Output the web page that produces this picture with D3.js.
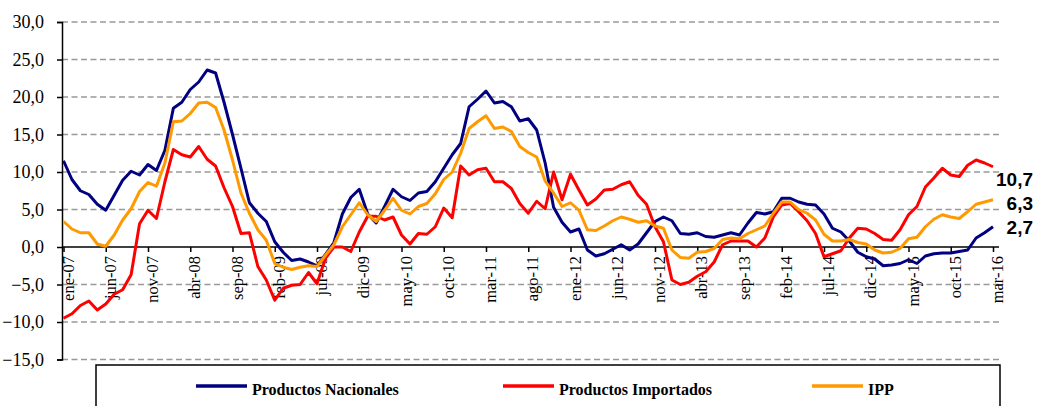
<!DOCTYPE html>
<html>
<head>
<meta charset="utf-8">
<script src="https://cdnjs.cloudflare.com/ajax/libs/d3/7.8.5/d3.min.js"></script>
<style>
  body { margin: 0; background: #fff; }
  svg { display: block; }
  .serif { font-family: "Liberation Serif", "Times New Roman", serif; }
</style>
</head>
<body>
<div id="chart"></div>
<script>
// month names and years for the category axis
var monthNames = ["ene","feb","mar","abr","may","jun","jul","ago","sep","oct","nov","dic"];
var years = ["07","08","09","10","11","12","13","14","15","16"];

// variacion anual (%), ene-07 .. mar-16
var nacionales = [
  11.5, 9.0, 7.5, 7.0, 5.7, 4.9, 6.9, 8.9, 10.1, 9.6,
  11.0, 10.2, 12.9, 18.5, 19.3, 21.0, 22.0, 23.6, 23.2, 19.3,
  15.0, 10.5, 5.9, 4.5, 3.4, 0.7, -0.7, -1.8, -1.6, -2.0,
  -2.5, -1.0, 0.6, 4.4, 6.6, 7.7, 4.4, 3.2, 5.4, 7.7,
  6.7, 6.2, 7.2, 7.4, 8.7, 10.5, 12.3, 13.8, 18.7, 19.7,
  20.8, 19.2, 19.4, 18.7, 16.8, 17.1, 15.6, 11.2, 5.3, 3.3,
  2.0, 2.4, -0.4, -1.2, -0.9, -0.3, 0.3, -0.4, 0.4, 1.9,
  3.4, 4.0, 3.5, 1.8, 1.7, 1.9, 1.4, 1.3, 1.6, 1.9,
  1.6, 3.2, 4.6, 4.4, 4.7, 6.5, 6.5, 6.0, 5.7, 5.6,
  4.4, 2.5, 2.0, 0.8, -0.7, -1.3, -1.6, -2.5, -2.4, -2.2,
  -1.7, -2.2, -1.2, -0.9, -0.8, -0.8, -0.6, -0.4, 1.2, 1.9,
  2.7
];
var importados = [
  -9.5, -8.9, -7.8, -7.2, -8.4, -7.6, -6.3, -5.7, -3.7, 3.1,
  4.9, 3.8, 8.7, 13.0, 12.3, 12.0, 13.4, 11.7, 10.8, 7.9,
  5.4, 1.8, 1.9, -2.6, -4.4, -7.1, -5.5, -5.1, -5.0, -3.4,
  -4.9, -1.5, 0.0, 0.0, -0.6, 2.0, 4.1, 4.1, 3.6, 4.0,
  1.6, 0.4, 1.8, 1.7, 2.7, 5.2, 3.9, 10.8, 9.6, 10.3,
  10.5, 8.7, 8.7, 7.8, 5.8, 4.5, 6.1, 5.1, 10.0, 6.3,
  9.7, 7.6, 5.6, 6.4, 7.6, 7.7, 8.3, 8.7, 6.9, 5.7,
  2.7, 0.7, -4.4, -5.0, -4.7, -3.9, -3.3, -2.0, 0.3, 0.8,
  0.8, 0.8, 0.0, 1.2, 4.0, 5.6, 5.8, 4.7, 3.5, 1.8,
  -1.3, -0.9, -0.5, 1.2, 2.5, 2.4, 1.8, 1.0, 0.9, 2.3,
  4.3, 5.4, 8.0, 9.2, 10.5, 9.6, 9.4, 10.9, 11.6, 11.2,
  10.7
];
var ipp = [
  3.4, 2.4, 1.9, 1.9, 0.4, 0.1, 1.6, 3.6, 5.1, 7.4,
  8.6, 8.1, 11.2, 16.7, 16.8, 17.8, 19.2, 19.3, 18.6, 15.6,
  11.6, 7.2, 4.5, 2.3, 0.9, -2.2, -2.7, -3.0, -2.7, -2.5,
  -2.6, -1.1, 0.3, 2.7, 4.3, 5.9, 4.3, 3.4, 4.9, 6.5,
  4.9, 4.4, 5.4, 5.8, 7.1, 9.0, 10.0, 12.5, 15.8, 16.7,
  17.5, 15.8, 16.0, 15.4, 13.4, 12.6, 12.0, 8.8, 7.2, 5.4,
  5.9, 4.9, 2.3, 2.2, 2.8, 3.5, 4.0, 3.7, 3.3, 3.5,
  2.8, 2.5, -0.4, -1.4, -1.5, -0.7, -0.6, -0.2, 1.0, 1.2,
  1.1, 1.8, 2.3, 2.8, 4.5, 6.0, 6.0, 5.0, 4.5, 3.6,
  1.7, 0.8, 0.8, 1.0, 0.6, 0.4, -0.4, -0.8, -0.7, -0.2,
  1.1, 1.3, 2.7, 3.7, 4.3, 4.0, 3.8, 4.7, 5.7, 6.0,
  6.3
];
var yTicks = [-15, -10, -5, 0, 5, 10, 15, 20, 25, 30];

// month labels "ene-07" ...
var months = [];
years.forEach(function(yr) {
  monthNames.forEach(function(m) { months.push(m + "-" + yr); });
});
months = months.slice(0, nacionales.length);

var series = [
  {name: "Productos Nacionales", values: nacionales, color: "#000080", labelDy: 7},
  {name: "Productos Importados", values: importados, color: "#ff0000", labelDy: 19},
  {name: "IPP", values: ipp, color: "#ff9900", labelDy: 10}
];

var width = 1037, height = 406;
var fmt = function(d) { return d3.format(".1f")(d).replace(".", ","); };

var svg = d3.select("#chart").append("svg")
  .attr("width", width)
  .attr("height", height);

var x = d3.scaleLinear().domain([0, months.length - 1]).range([63.5, 993]);
var y = d3.scaleLinear().domain([-15, 30]).range([359.5, 22]);

// dashed grid
svg.append("g")
  .selectAll("line")
  .data(yTicks.filter(function(d) { return d != 0; }))
  .join("line")
  .attr("x1", 62).attr("x2", 999)
  .attr("y1", function(d) { return y(d); })
  .attr("y2", function(d) { return y(d); })
  .attr("stroke", "#999")
  .attr("stroke-width", 1.5)
  .attr("stroke-dasharray", "6,3.5");

// y axis
var yAxis = svg.append("g")
  .attr("transform", "translate(62,0)")
  .call(d3.axisLeft(y).tickValues(yTicks).tickSize(5).tickPadding(13).tickFormat(fmt));
yAxis.attr("font-family", null).attr("font-size", null);
yAxis.select(".domain").attr("stroke", "#000").attr("stroke-width", 1.5);
yAxis.selectAll(".tick line").attr("stroke", "#000").attr("stroke-width", 1.5);
yAxis.selectAll("text")
  .attr("class", "serif")
  .style("font-size", "18px")
  .attr("fill", "#000");

// x axis at zero
var tickIdx = d3.range(0, months.length, 5);
var xAxis = svg.append("g")
  .attr("transform", "translate(0," + y(0) + ")")
  .call(d3.axisBottom(x).tickValues(tickIdx).tickSize(5).tickSizeOuter(0)
    .tickFormat(function(i) { return months[i]; }));
xAxis.attr("font-family", null).attr("font-size", null);
xAxis.select(".domain").attr("d", "M62,0H999").attr("stroke", "#000").attr("stroke-width", 1.5);
xAxis.selectAll(".tick line").attr("stroke", "#000").attr("stroke-width", 1.5);
xAxis.selectAll("text")
  .attr("class", "serif")
  .style("font-size", "16.5px")
  .attr("fill", "#000")
  .style("text-anchor", "end")
  .attr("dy", null)
  .attr("y", 0)
  .attr("transform", "translate(9.5,9) rotate(-90)");

// lines
var line = d3.line()
  .x(function(d, i) { return x(i); })
  .y(function(d) { return y(d); });

svg.append("g")
  .selectAll("path")
  .data(series)
  .join("path")
  .attr("d", function(s) { return line(s.values); })
  .attr("fill", "none")
  .attr("stroke", function(s) { return s.color; })
  .attr("stroke-width", 3)
  .attr("stroke-linejoin", "round");

// last value labels
svg.append("g")
  .selectAll("text")
  .data(series)
  .join("text")
  .attr("x", 1033)
  .attr("y", function(s) { return y(s.values[s.values.length - 1]) + s.labelDy; })
  .attr("text-anchor", "end")
  .style("font-family", "'Liberation Sans', Arial, sans-serif")
  .style("font-weight", "bold")
  .style("font-size", "19px")
  .text(function(s) { return fmt(s.values[s.values.length - 1]); });

// legend box
var legend = svg.append("g");
legend.append("rect")
  .attr("x", 96).attr("y", 365)
  .attr("width", 904).attr("height", 60)
  .attr("fill", "#fff")
  .attr("stroke", "#000")
  .attr("stroke-width", 1.5);

var legendX = [196, 503, 812];
var item = legend.selectAll("g.item")
  .data(series)
  .join("g")
  .attr("class", "item")
  .attr("transform", function(s, i) { return "translate(" + legendX[i] + ",386)"; });
item.append("line")
  .attr("x1", 0).attr("x2", 51)
  .attr("stroke", function(s) { return s.color; })
  .attr("stroke-width", 3.5);
item.append("text")
  .attr("class", "serif")
  .attr("x", 56).attr("y", 9)
  .style("font-weight", "bold")
  .style("font-size", "16px")
  .text(function(s) { return s.name; });
</script>
</body>
</html>
